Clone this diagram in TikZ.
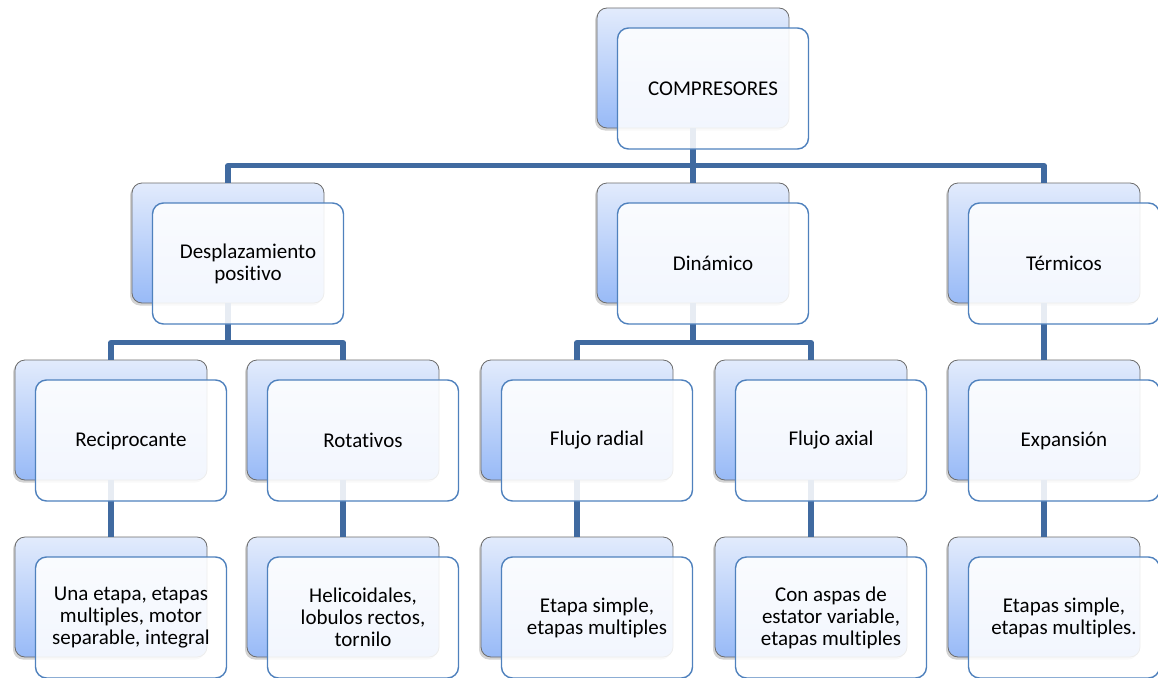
\documentclass[tikz,border=0pt]{standalone}
\usepackage{fontspec}
\setmainfont{Carlito}[Ligatures=NoCommon]
\usetikzlibrary{shadows}
\definecolor{linkblue}{RGB}{64,106,160}
\definecolor{frameblue}{RGB}{79,129,189}
\definecolor{topblue}{RGB}{226,235,252}
\definecolor{botblue}{RGB}{152,186,247}

\begin{document}
\begin{tikzpicture}[x=1pt,y=-1pt,
  backbox/.style={draw=gray!85!black, line width=0.8pt, rounded corners=10pt,
    top color=topblue, bottom color=botblue,
    minimum width=192pt, minimum height=120pt,
    drop shadow={shadow xshift=-2pt,shadow yshift=-2.5pt,opacity=0.35}},
  frontbox/.style={draw=frameblue, line width=1.4pt, rounded corners=11pt,
    fill=white, fill opacity=0.88, text opacity=1,
    minimum width=191pt, minimum height=121pt, align=center,
    font=\fontsize{21}{22}\selectfont},
  link/.style={draw=linkblue, line width=5.5pt, line join=round}]
  \useasboundingbox (0,0) rectangle (1158,677);

  % cajas de fondo
  \node[backbox] (compb) at (693,68) {};
  \node[backbox] (despb) at (228,243) {};
  \node[backbox] (dinab) at (693,243) {};
  \node[backbox] (termb) at (1044,243) {};
  \node[backbox] (recib) at (111,420) {};
  \node[backbox] (rotab) at (343,420) {};
  \node[backbox] (radib) at (577,420) {};
  \node[backbox] (axiab) at (811,420) {};
  \node[backbox] (expab) at (1044,420) {};
  \node[backbox] (unab) at (111,597) {};
  \node[backbox] (helib) at (343,597) {};
  \node[backbox] (etapb) at (577,597) {};
  \node[backbox] (aspab) at (811,597) {};
  \node[backbox] (etpsb) at (1044,597) {};

  % conectores
  \draw[link] (compb.south) -- (dinab.north);
  \draw[link] (despb.north) -- ++(0,-17) -| (termb.north);
  \draw[link] (recib.north) -- ++(0,-17) -| (rotab.north);
  \draw[link] (despb.south) -- ++(0,40);
  \draw[link] (radib.north) -- ++(0,-17) -| (axiab.north);
  \draw[link] (dinab.south) -- ++(0,40);
  \draw[link] (termb.south) -- (expab.north);
  \draw[link] (recib.south) -- (unab.north);
  \draw[link] (rotab.south) -- (helib.north);
  \draw[link] (radib.south) -- (etapb.north);
  \draw[link] (axiab.south) -- (aspab.north);
  \draw[link] (expab.south) -- (etpsb.north);

  % cajas de texto
  \node[frontbox] (comp) at ([shift={(20,20.5)}]compb) {COMPRESORES};
  \node[frontbox] (desp) at ([shift={(20,20.5)}]despb) {Desplazamiento\\positivo};
  \node[frontbox] (dina) at ([shift={(20,20.5)}]dinab) {Dinámico};
  \node[frontbox] (term) at ([shift={(20,20.5)}]termb) {Térmicos};
  \node[frontbox] (reci) at ([shift={(20,20.5)}]recib) {Reciprocante};
  \node[frontbox] (rota) at ([shift={(20,20.5)}]rotab) {Rotativos};
  \node[frontbox] (radi) at ([shift={(20,20.5)}]radib) {Flujo radial};
  \node[frontbox] (axia) at ([shift={(20,20.5)}]axiab) {Flujo axial};
  \node[frontbox] (expa) at ([shift={(20,20.5)}]expab) {Expansión};
  \node[frontbox] (una) at ([shift={(20,20.5)}]unab) {Una etapa, etapas\\multiples, motor\\separable, integral};
  \node[frontbox] (heli) at ([shift={(20,20.5)}]helib) {Helicoidales,\\lobulos rectos,\\tornilo};
  \node[frontbox] (etap) at ([shift={(20,20.5)}]etapb) {Etapa simple,\\etapas multiples};
  \node[frontbox] (aspa) at ([shift={(20,20.5)}]aspab) {Con aspas de\\estator variable,\\etapas multiples};
  \node[frontbox] (etps) at ([shift={(20,20.5)}]etpsb) {Etapas simple,\\etapas multiples.};
\end{tikzpicture}
\end{document}
